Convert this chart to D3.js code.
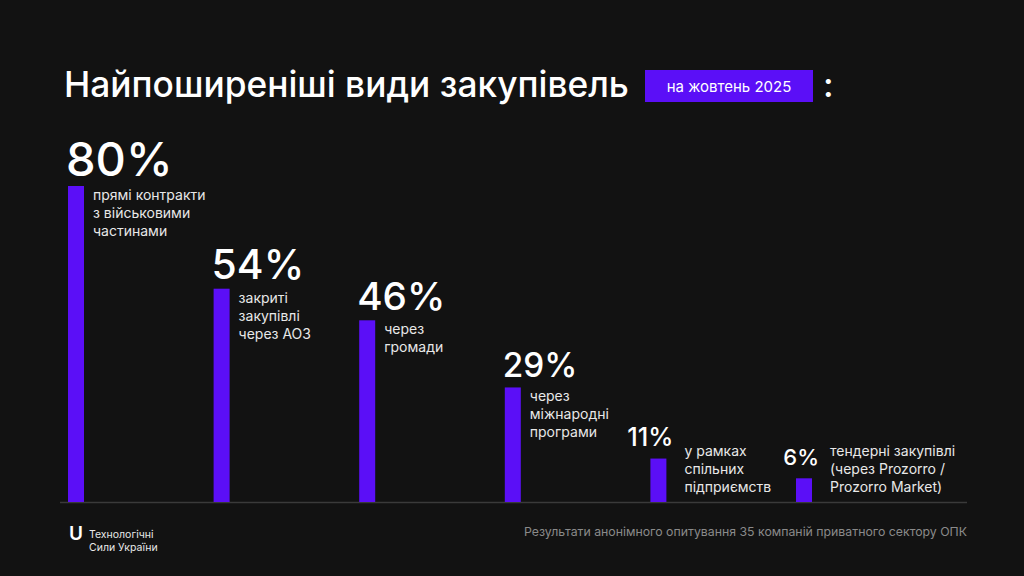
<!DOCTYPE html>
<html>
<head>
<meta charset="utf-8">
<script src="https://cdn.jsdelivr.net/npm/d3@7"></script>
<style>
  html, body { margin: 0; padding: 0; background: #121212; }
  svg { display: block; }
  text { font-family: Inter, "Noto Sans", sans-serif; }
</style>
</head>
<body>
<svg id="chart" width="1024" height="576"></svg>
<script>
// ---- data ----
const categories = ["direct", "closed", "communities", "international", "joint", "tender"];
const values = [80, 54, 46, 29, 11, 6];
const labelLines = [
  ["прямі контракти", "з військовими", "частинами"],
  ["закриті", "закупівлі", "через АОЗ"],
  ["через", "громади"],
  ["через", "міжнародні", "програми"],
  ["у рамках", "спільних", "підприємств"],
  ["тендерні закупівлі", "(через Prozorro /", "Prozorro Market)"]
];
const titleText = "Найпоширеніші види закупівель";
const badgeText = "на жовтень 2025";
const footerText = "Результати анонімного опитування 35 компаній приватного сектору ОПК";
const logoLines = ["Технологічні", "Сили України"];

// ---- layout ----
const W = 1024, H = 576;
const BAR_COLOR = "#5b0ff7";
const baseY = 502;
const svg = d3.select("#chart");
svg.append("rect").attr("width", W).attr("height", H).attr("fill", "#121212");

const data = categories.map((c, i) => ({ c, v: values[i], lines: labelLines[i] }));

const x = d3.scalePoint().domain(categories).range([76, 804]);
const y = d3.scaleLinear().domain([0, 80]).range([baseY, 186]);
const fs = d3.scalePow().exponent(0.5).domain([6, 80]).range([22, 47]);
const barW = 16;
const lineH = 18;

// title
svg.append("text").attr("x", 64).attr("y", 97)
  .attr("font-size", 35.3).attr("font-weight", 500).attr("fill", "#ffffff")
  .text(titleText);
svg.append("rect").attr("x", 645).attr("y", 70).attr("width", 168).attr("height", 32).attr("fill", BAR_COLOR);
svg.append("text").attr("x", 729).attr("y", 92).attr("text-anchor", "middle")
  .attr("font-size", 15).attr("font-weight", 400).attr("fill", "#ffffff")
  .text(badgeText);
svg.append("text").attr("x", 823).attr("y", 97)
  .attr("font-size", 35).attr("font-weight", 500).attr("fill", "#ffffff").text(":");

// baseline
svg.append("line").attr("x1", 60).attr("x2", 967).attr("y1", baseY + 0.5).attr("y2", baseY + 0.5)
  .attr("stroke", "#3a3a3a").attr("stroke-width", 1.5);

// bars
svg.selectAll("rect.bar").data(data).join("rect")
  .attr("class", "bar")
  .attr("x", d => x(d.c) - barW / 2)
  .attr("y", d => y(d.v))
  .attr("width", barW)
  .attr("height", d => baseY - y(d.v))
  .attr("fill", BAR_COLOR);

// percent labels
const side = d => d.v < 20;
svg.selectAll("text.pct").data(data).join("text")
  .attr("class", "pct")
  .attr("x", d => side(d) ? x(d.c) + barW / 2 + 7 : x(d.c) - barW / 2 - 2)
  .attr("y", d => side(d) ? y(d.v) - 13 : y(d.v) - 10)
  .attr("text-anchor", d => side(d) ? "end" : "start")
  .attr("font-size", d => fs(d.v))
  .attr("font-weight", 500)
  .attr("fill", "#ffffff")
  .text(d => d.v + "%");

// category labels
const lab = svg.selectAll("text.lab").data(data).join("text")
  .attr("class", "lab")
  .attr("font-size", 14)
  .attr("font-weight", 400)
  .attr("fill", "#e8e8e8")
  .attr("transform", d => {
    const lx = side(d) ? x(d.c) + barW / 2 + 18 : x(d.c) + barW / 2 + 9;
    const ly = Math.min(y(d.v) + 14, baseY - 10 - (d.lines.length - 1) * lineH);
    return `translate(${lx},${ly})`;
  });
lab.selectAll("tspan").data(d => d.lines).join("tspan")
  .attr("x", 0)
  .attr("y", (l, i) => i * lineH)
  .text(l => l);

// footer
svg.append("text").attr("x", 967).attr("y", 536).attr("text-anchor", "end")
  .attr("font-size", 12.3).attr("fill", "#8a8a8a").text(footerText);

// logo
svg.append("text").attr("x", 69).attr("y", 540)
  .attr("font-size", 19).attr("font-weight", 600).attr("fill", "#ffffff").text("U");
svg.selectAll("text.logo").data(logoLines).join("text")
  .attr("class", "logo")
  .attr("x", 89).attr("y", (d, i) => 538 + i * 12.5)
  .attr("font-size", 10.5).attr("fill", "#e8e8e8").text(d => d);
</script>
</body>
</html>
